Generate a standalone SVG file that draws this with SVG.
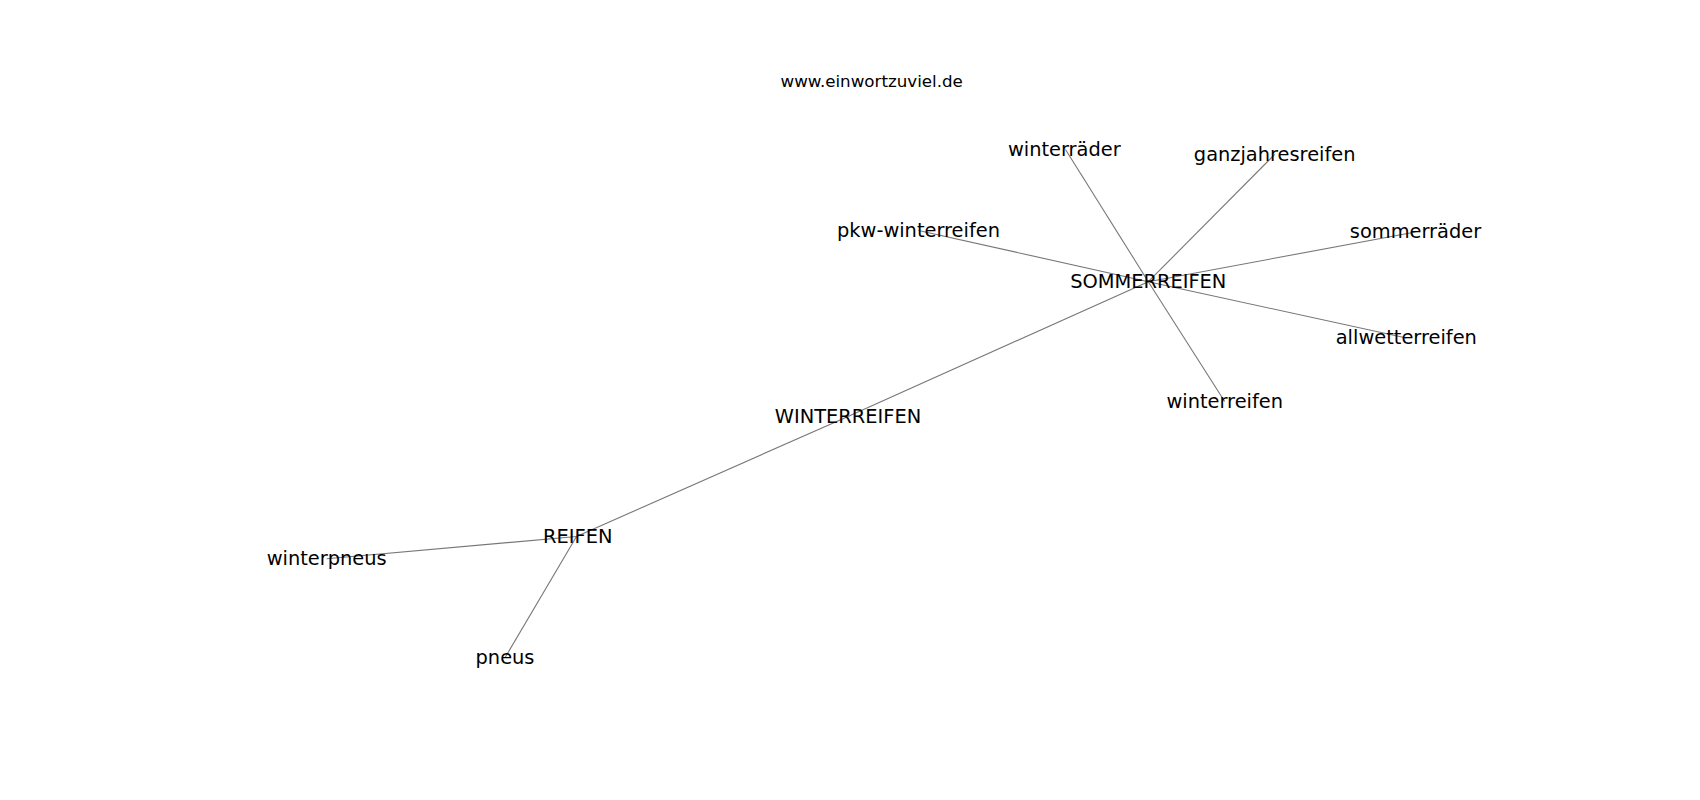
<svg xmlns="http://www.w3.org/2000/svg" width="1700" height="800" viewBox="0 0 1700 800">
<style>
.edge{stroke:#777;stroke-width:1.1;fill:none}
.lbl{font-family:"DejaVu Sans",sans-serif;font-size:19.4px;fill:#000;text-anchor:middle}
.title{font-family:"DejaVu Sans",sans-serif;font-size:16.7px;fill:#000;text-anchor:middle}
</style>
<rect width="1700" height="800" fill="#fff"/>
<g id="edges">
<line class="edge" x1="1148.3" y1="281.7" x2="1065.5" y2="149.5"/>
<line class="edge" x1="1148.3" y1="281.7" x2="1274.7" y2="154.4"/>
<line class="edge" x1="1148.3" y1="281.7" x2="918.5" y2="230.5"/>
<line class="edge" x1="1148.3" y1="281.7" x2="1415.5" y2="232"/>
<line class="edge" x1="1148.3" y1="281.7" x2="1406.3" y2="338"/>
<line class="edge" x1="1148.3" y1="281.7" x2="1224.7" y2="401.5"/>
<line class="edge" x1="1148.3" y1="281.7" x2="848" y2="416.4"/>
<line class="edge" x1="848" y1="416.4" x2="576.5" y2="536.5"/>
<line class="edge" x1="576.5" y1="536.5" x2="326.7" y2="558.7"/>
<line class="edge" x1="576.5" y1="536.5" x2="505" y2="657.7"/>
</g>
<text class="title" x="871.7" y="87.3">www.einwortzuviel.de</text>
<g id="n-winterraeder"><text class="lbl" x="1064.3" y="155.5">winterräder</text></g>
<g id="n-ganzjahresreifen"><text class="lbl" x="1274.7" y="160.7">ganzjahresreifen</text></g>
<g id="n-pkw-winterreifen"><text class="lbl" x="918.5" y="237.3">pkw-winterreifen</text></g>
<g id="n-sommerraeder"><text class="lbl" x="1415.5" y="238.2">sommerräder</text></g>
<g id="n-SOMMERREIFEN"><text class="lbl" x="1148.3" y="288">SOMMERREIFEN</text></g>
<g id="n-allwetterreifen"><text class="lbl" x="1406.3" y="344.3">allwetterreifen</text></g>
<g id="n-winterreifen"><text class="lbl" x="1224.7" y="408">winterreifen</text></g>
<g id="n-WINTERREIFEN"><text class="lbl" x="848" y="422.7">WINTERREIFEN</text></g>
<g id="n-REIFEN"><text class="lbl" x="577.8" y="542.5">REIFEN</text></g>
<g id="n-winterpneus"><text class="lbl" x="326.7" y="565">winterpneus</text></g>
<g id="n-pneus"><text class="lbl" x="505" y="664">pneus</text></g>
</svg>
